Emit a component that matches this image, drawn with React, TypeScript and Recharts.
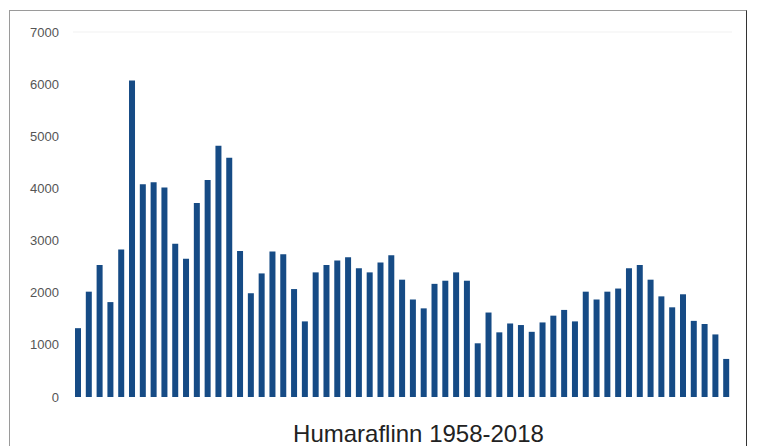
import { BarChart, Bar, XAxis, YAxis, ReferenceLine } from "recharts";

// 1958-2018
const years: number[] = [];
for (let y = 1958; y <= 2018; y++) years.push(y);

const catch_: number[] = [
  1320, 2020, 2530, 1820, 2830, 6070, 4080, 4120, 4020, 2940,
  2650, 3720, 4160, 4820, 4590, 2800, 1990, 2370, 2790, 2740,
  2070, 1450, 2390, 2530, 2620, 2680, 2470, 2390, 2580, 2720,
  2250, 1870, 1700, 2170, 2230, 2390, 2230, 1030, 1620, 1240,
  1410, 1380, 1250, 1430, 1560, 1670, 1450, 2020, 1870, 2020,
  2080, 2470, 2530, 2250, 1930, 1720, 1970, 1460, 1400, 1200,
  730,
];

const yTicks = [0, 1000, 2000, 3000, 4000, 5000, 6000, 7000];

const data = years.map((year, i) => ({ year, value: catch_[i] }));

export default function App() {
  return (
    <div
      style={{
        position: "absolute",
        left: 0,
        top: 0,
        width: 761,
        height: 446,
        overflow: "hidden",
        background: "#fff",
        fontFamily: "'Liberation Sans', Arial, sans-serif",
      }}
    >
      <div
        style={{
          position: "absolute",
          left: 9,
          top: 10,
          width: 736,
          height: 460,
          borderTop: "1px solid #9a9a9a",
          borderLeft: "1px solid #9a9a9a",
          borderRight: "1px solid #333",
        }}
      />
      <BarChart
        width={761}
        height={446}
        data={data}
        margin={{ top: 32, right: 29, bottom: 0, left: 0 }}
        barCategoryGap={0}
      >
        <ReferenceLine y={7000} stroke="#f1f1f1" />
        <XAxis
          dataKey="year"
          tick={false}
          tickLine={false}
          axisLine={false}
          height={49}
          label={{
            value: "Humaraflinn 1958-2018",
            position: "insideBottom",
            offset: 4,
            dx: 16,
            fontSize: 24,
            fill: "#222",
          }}
        />
        <YAxis
          domain={[0, 7000]}
          ticks={yTicks}
          width={73}
          tickLine={false}
          axisLine={false}
          tickMargin={8}
          tick={{ fontSize: 13, fill: "#555" }}
          interval={0}
        />
        <Bar dataKey="value" fill="#164b85" barSize={6} isAnimationActive={false} />
      </BarChart>
    </div>
  );
}
